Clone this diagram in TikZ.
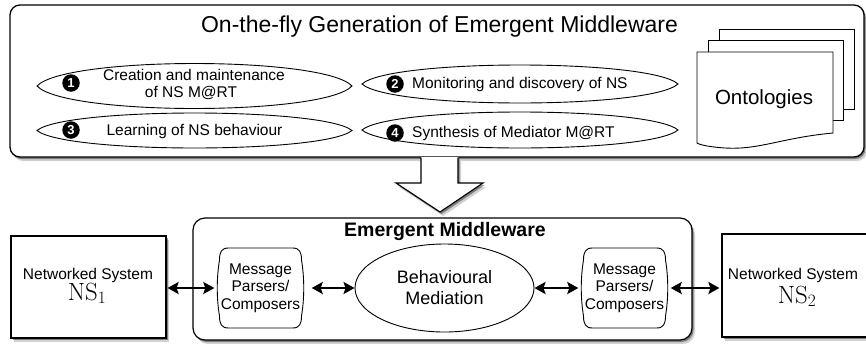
\documentclass[tikz,border=0pt]{standalone}
\usepackage[no-math]{fontspec}
\setmainfont{Liberation Sans}
\usetikzlibrary{shapes.geometric,arrows.meta,shadows}
\tikzset{
  shad/.style={drop shadow={shadow xshift=1.5pt,shadow yshift=-2pt,opacity=0.4,fill=black},
               drop shadow={shadow xshift=3pt,shadow yshift=-4pt,opacity=0.18,fill=black}},
  lbl/.style={font=\fontsize{15.5}{18}\selectfont,inner sep=0pt,anchor=base},
  badge/.style={circle,fill=black,text=white,inner sep=0pt,minimum size=17.5pt,font=\fontsize{13}{13}\selectfont\bfseries},
  dbl/.style={{Stealth[length=11pt,width=12pt,inset=2pt]}-{Stealth[length=11pt,width=12pt,inset=2pt]},line width=2.4pt},
  pics/lens/.style n args={2}{code={
    \draw[line width=0.9pt] (-#1,0) .. controls ({-0.82*#1},{-1.333*#2}) and ({0.82*#1},{-1.333*#2}) .. (#1,0)
      .. controls ({0.82*#1},{1.333*#2}) and ({-0.82*#1},{1.333*#2}) .. cycle;}},
  pics/msgbox/.style={code={
    \draw[line width=0.9pt] (-32,-40) -- (32,-40) .. controls (39,-40) and (41,-36) .. (41,-28)
      .. controls (44,-10) and (44,10) .. (41,28) .. controls (41,36) and (39,40) .. (32,40)
      -- (-32,40) .. controls (-39,40) and (-41,36) .. (-41,28)
      .. controls (-44,10) and (-44,-10) .. (-41,-28) .. controls (-41,-36) and (-39,-40) .. (-32,-40) -- cycle;}}
}
\begin{document}
\begin{tikzpicture}[x=1pt,y=-1pt]
\useasboundingbox (0,0) rectangle (866,343);

% top box
\node[draw,line width=1.3pt,rounded corners=10pt,fill=white,shad,minimum width=854pt,minimum height=152pt,inner sep=0pt] (topbox) at (437,81) {};
\node[font=\fontsize{23}{27}\selectfont,inner sep=0pt,anchor=base] (title) at (439.5,32) {On-the-fly Generation of Emergent Middleware};

% lenses
\pic (e1) at (194.5,86) {lens={157.5}{22.5}};
\pic (e3) at (194.5,130.5) {lens={157.5}{17.5}};
\pic (e2) at (520,84) {lens={158}{19}};
\pic (e4) at (520,130) {lens={158}{18}};

\node[badge] (b1) at (71,83) {1};
\node[badge] (b3) at (71,130) {3};
\node[badge] (b2) at (395,84) {2};
\node[badge] (b4) at (395,133) {4};

\node[lbl] (t1a) at (194,80.7) {Creation and maintenance};
\node[lbl] (t1b) at (191,97.3) {of NS M@RT};
\node[lbl] (t3) at (194.5,135.5) {Learning of NS behaviour};
\node[lbl,anchor=base west] (t2) at (412,88.3) {Monitoring and discovery of NS};
\node[lbl,anchor=base west] (t4) at (412,137.3) {Synthesis of Mediator M@RT};

% ontologies
\draw[fill=white,line width=0.9pt] (719,29) rectangle (854,109);
\draw[fill=white,line width=0.9pt] (708,40) rectangle (843,120);
\draw[fill=white,line width=0.9pt] (697,52) -- (833,52) -- (833,133) .. controls (780,138) and (760,150) .. (725,148) .. controls (710,147) and (700,145) .. (697,143) -- cycle;
\node[font=\fontsize{20.5}{24}\selectfont,inner sep=0pt,anchor=base] (onto) at (764,104) {Ontologies};

% big arrow
\fill[white,shad] (421,157) -- (458,157) -- (458,183) -- (483,183) -- (440,212) -- (396,183) -- (421,183) -- cycle;
\draw[line width=1.1pt,line join=miter] (421,157.5) -- (421,183) -- (396,183) -- (440,212) -- (483,183) -- (458,183) -- (458,157.5);

% bottom
\node[draw,line width=1.2pt,rounded corners=12pt,fill=white,shad,minimum width=499pt,minimum height=122pt,inner sep=0pt] (em) at (442.5,279) {};
\node[font=\fontsize{19.5}{23}\selectfont\bfseries,inner sep=0pt,anchor=base] (emt) at (445,236.7) {Emergent Middleware};

\node[draw,line width=1.2pt,fill=white,shad,minimum width=155pt,minimum height=102pt,inner sep=0pt] (ns1) at (88.5,287) {};
\node[draw,line width=1.2pt,fill=white,shad,minimum width=146pt,minimum height=103pt,inner sep=0pt] (ns2) at (795,285.5) {};
\node[lbl] (ns1a) at (88,279) {Networked System};
\node[inner sep=0pt,anchor=base,font=\fontsize{24}{28}\selectfont] (ns1b) at (87,300) {$\mathrm{NS}_1$};
\node[lbl] (ns2a) at (793,279.3) {Networked System};
\node[inner sep=0pt,anchor=base,font=\fontsize{24}{28}\selectfont] (ns2b) at (797,303) {$\mathrm{NS}_2$};

\node[minimum width=88pt,minimum height=80pt,inner sep=0pt,align=center,font=\fontsize{15.5}{17.4}\selectfont] (m1) at (260.5,288) {Message\\Parsers/\\Composers};
\pic at (m1) {msgbox};
\node[minimum width=88pt,minimum height=80pt,inner sep=0pt,align=center,font=\fontsize{15.5}{17.4}\selectfont] (m2) at (624.5,288) {Message\\Parsers/\\Composers};
\pic at (m2) {msgbox};

\node[ellipse,draw,line width=0.9pt,minimum width=179pt,minimum height=88pt,inner sep=0pt,align=center,font=\fontsize{18}{21}\selectfont] (beh) at (444.5,288) {Behavioural\\Mediation};

\draw[dbl,shorten <=1pt,shorten >=2pt] (ns1.east |- m1.west) -- (m1.west);
\draw[dbl,shorten <=7pt] (m1.east) -- (beh.west);
\draw[dbl,shorten >=2pt] (beh.east) -- (m2.west);
\draw[dbl,shorten <=2pt,shorten >=2pt] (m2.east) -- (ns2.west |- m2.east);
\end{tikzpicture}
\end{document}
